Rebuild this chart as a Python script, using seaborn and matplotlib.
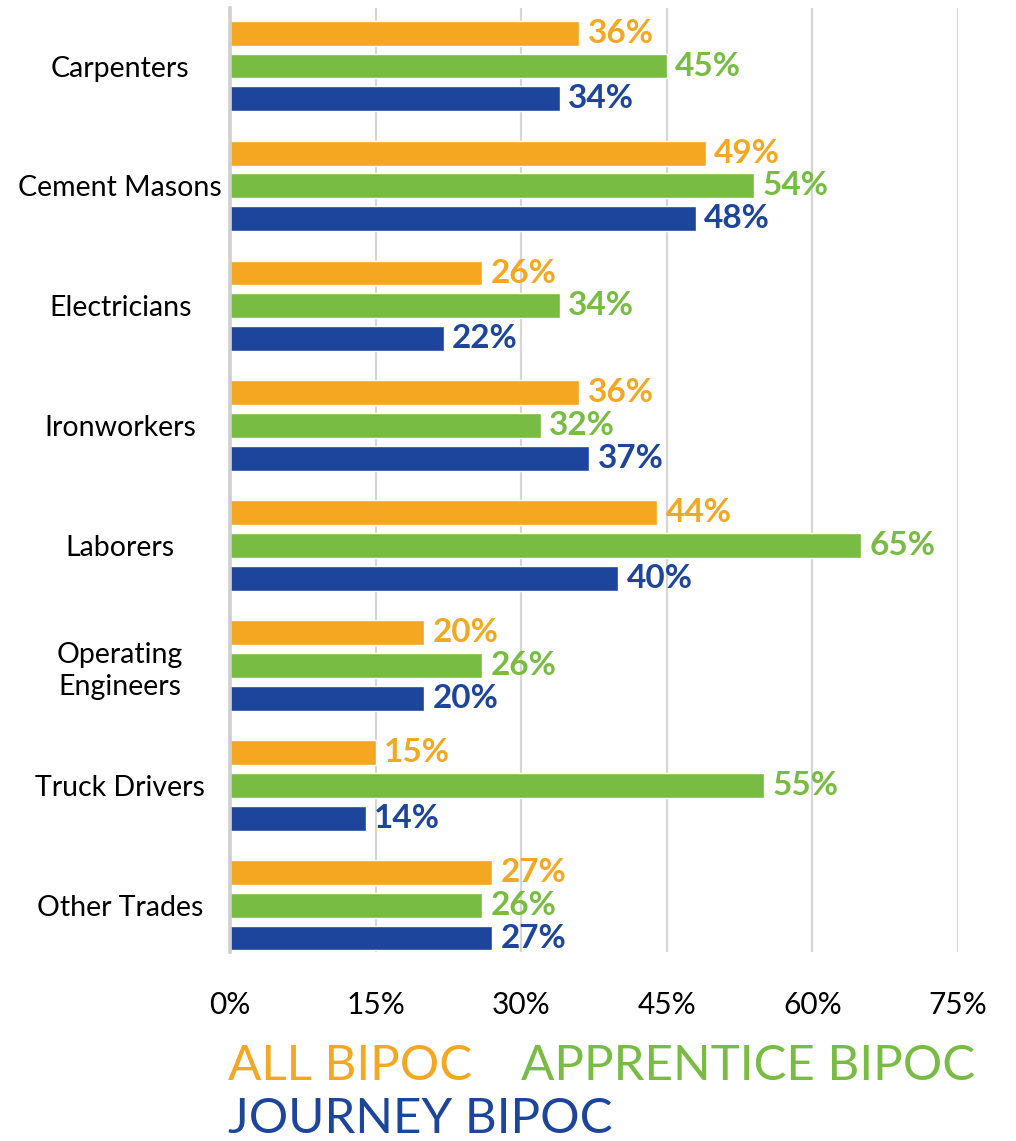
import matplotlib
matplotlib.use("Agg")
import matplotlib.pyplot as plt
import seaborn as sns
import pandas as pd

# Share of BIPOC workers by trade (%)
trades = ["Carpenters", "Cement Masons", "Electricians", "Ironworkers",
          "Laborers", "Operating\nEngineers", "Truck Drivers", "Other Trades"]
all_bipoc = [36, 49, 26, 36, 44, 20, 15, 27]
apprentice_bipoc = [45, 54, 34, 32, 65, 26, 55, 26]
journey_bipoc = [34, 48, 22, 37, 40, 20, 14, 27]

series_names = ["ALL BIPOC", "APPRENTICE BIPOC", "JOURNEY BIPOC"]
series_colors = ["#F4A720", "#78BC43", "#1D459C"]
x_ticks = [0, 15, 30, 45, 60, 75]

df = pd.DataFrame({
    "trade": trades * 3,
    "group": [series_names[0]] * 8 + [series_names[1]] * 8 + [series_names[2]] * 8,
    "value": all_bipoc + apprentice_bipoc + journey_bipoc,
})

sns.set_theme(style="white")
plt.rcParams["font.family"] = ["Lato", "DejaVu Sans"]

fig = plt.figure(figsize=(10.16, 11.41), dpi=100)
ax = fig.add_axes([230 / 1016, 1 - 952 / 1141, 728 / 1016, 944 / 1141])

sns.barplot(data=df, x="value", y="trade", hue="group", orient="h",
            palette=series_colors, hue_order=series_names, order=trades,
            width=0.82, gap=0.24, saturation=1, ax=ax, legend=False,
            zorder=3)

ax.set_xlim(0, 75)
ax.set_ylim(7.39, -0.484)
ax.set_xticks(x_ticks)
ax.set_xticklabels([f"{t}%" for t in x_ticks])
ax.xaxis.grid(True, color="#D6D6D6", linewidth=1.6, zorder=0)
ax.yaxis.grid(False)
ax.set_axisbelow(True)
for side in ["top", "right", "bottom"]:
    ax.spines[side].set_visible(False)
ax.spines["left"].set_color("#CFCFCF")
ax.spines["left"].set_linewidth(2.6)
ax.spines["left"].set_zorder(4)
ax.set_xlabel("")
ax.set_ylabel("")

ax.tick_params(axis="x", length=0, pad=28, labelsize=21.5, labelcolor="black")
ax.tick_params(axis="y", length=0, pad=79, labelsize=20.5, labelcolor="black")
for lbl in ax.get_yticklabels():
    lbl.set_horizontalalignment("center")
    lbl.set_multialignment("center")
    lbl.set_linespacing(1.3)

# Value labels at the end of each bar
for container, color, vals in zip(ax.containers, series_colors,
                                  [all_bipoc, apprentice_bipoc, journey_bipoc]):
    ax.bar_label(container, labels=[f"{v}%" for v in vals], padding=6,
                 color=color, fontsize=24, fontweight="bold")

# Coloured text legend below the axis
legend_kw = dict(fontsize=35.5, fontweight="normal", va="center", ha="left")
fig.text(228 / 1016, 1 - 1066 / 1141, series_names[0], color=series_colors[0], **legend_kw)
fig.text(521 / 1016, 1 - 1066 / 1141, series_names[1], color=series_colors[1], **legend_kw)
fig.text(228 / 1016, 1 - 1119 / 1141, series_names[2], color=series_colors[2], **legend_kw)

fig.savefig("out.png", dpi=100, facecolor="white")
